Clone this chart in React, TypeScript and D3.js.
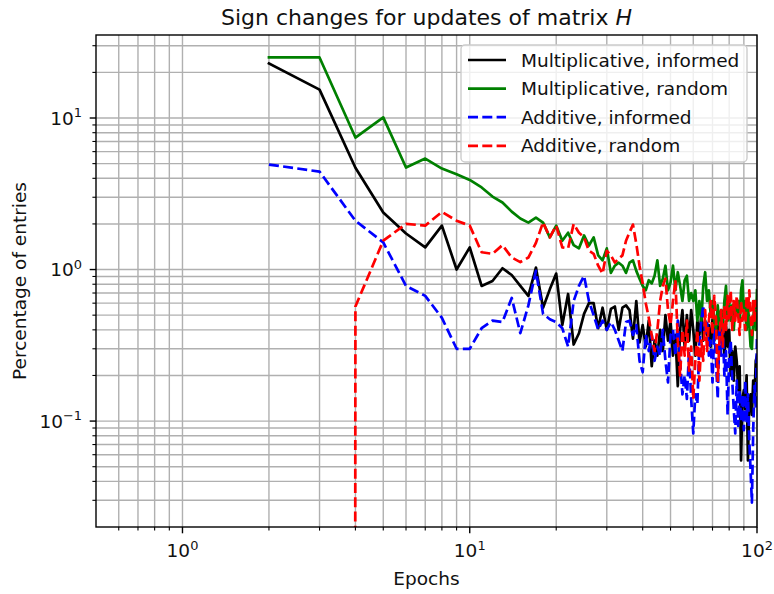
import React from 'react';
import * as d3 from 'd3';

const epochs: number[] = d3.range(2, 101);

const multInformed: number[] = [
  22.9, 15.4, 4.7, 2.38, 1.73, 1.40, 1.95, 1.0, 1.40,
  0.78, 0.84, 1.02, 0.92, 0.78, 0.67, 1.03, 0.56, 0.74, 0.94,
  0.43, 0.69, 0.32, 0.38, 0.51, 0.60, 0.60, 0.41, 0.56, 0.40,
  0.55, 0.57, 0.40, 0.56, 0.58, 0.54, 0.35, 0.62, 0.33, 0.43,
  0.31, 0.46, 0.23, 0.34, 0.27, 0.40, 0.29, 0.50, 0.34, 0.46,
  0.27, 0.37, 0.17, 0.40, 0.54, 0.31, 0.50, 0.34, 0.54, 0.40,
  0.27, 0.46, 0.37, 0.50, 0.34, 0.46, 0.37, 0.43, 0.31, 0.47,
  0.34, 0.43, 0.37, 0.46, 0.34, 0.40, 0.27, 0.43, 0.31, 0.40,
  0.20, 0.29, 0.185, 0.31, 0.25, 0.16, 0.23, 0.055, 0.14, 0.16,
  0.12, 0.20, 0.055, 0.14, 0.15, 0.11, 0.185, 0.14, 0.25, 0.27,
];

const multRandom: number[] = [
  25.1, 25.1, 7.43, 10.1, 4.71, 5.4, 4.64, 4.25, 3.9,
  3.48, 3.03, 2.77, 2.41, 2.17, 2.04, 2.2, 2.04, 1.63, 1.95,
  1.55, 1.75, 1.45, 1.38, 1.68, 1.44, 1.63, 1.24, 1.15, 1.38,
  0.95, 1.06, 1.11, 1.06, 0.95, 1.11, 1.15, 0.98, 0.87, 0.78,
  0.73, 0.85, 0.81, 0.91, 1.15, 0.78, 0.87, 1.06, 0.73, 0.82,
  1.06, 0.73, 0.96, 0.78, 0.62, 0.85, 0.91, 0.62, 0.70, 0.62,
  0.73, 0.46, 0.62, 0.46, 0.78, 0.96, 0.62, 0.73, 0.50, 0.62,
  0.46, 0.40, 0.58, 0.43, 0.54, 0.40, 0.62, 0.78, 0.46, 0.62,
  0.46, 0.58, 0.40, 0.58, 0.50, 0.62, 0.46, 0.73, 0.85, 0.50,
  0.62, 0.40, 0.58, 0.43, 0.31, 0.30, 0.46, 0.62, 0.40, 0.73,
];

const addInformed: number[] = [
  4.93, 4.43, 2.1, 1.51, 0.78, 0.67, 0.48, 0.30, 0.30,
  0.41, 0.46, 0.45, 0.65, 0.38, 0.58, 0.98, 0.51, 0.47, 0.45,
  0.41, 0.31, 0.62, 0.78, 0.91, 0.62, 0.50, 0.40, 0.46, 0.40,
  0.45, 0.40, 0.34, 0.29, 0.45, 0.46, 0.37, 0.43, 0.25, 0.21,
  0.37, 0.29, 0.37, 0.25, 0.31, 0.27, 0.40, 0.25, 0.18, 0.37,
  0.40, 0.27, 0.46, 0.25, 0.15, 0.20, 0.14, 0.29, 0.14, 0.083,
  0.15, 0.13, 0.32, 0.46, 0.58, 0.37, 0.46, 0.27, 0.34, 0.18,
  0.40, 0.25, 0.14, 0.40, 0.27, 0.40, 0.20, 0.29, 0.11, 0.27,
  0.34, 0.185, 0.12, 0.083, 0.185, 0.093, 0.16, 0.10, 0.15, 0.087,
  0.185, 0.10, 0.15, 0.074, 0.047, 0.029, 0.087, 0.17, 0.12, 0.37,
];

const addRandom: number[] = [
  0, 0, 0.57, 1.55, 2.0, 1.95, 2.4, 2.1, 1.95,
  1.3, 1.27, 1.45, 1.2, 1.12, 1.2, 1.5, 2.05, 1.63, 1.95,
  1.4, 1.38, 2.0, 1.75, 1.63, 1.33, 1.27, 1.06, 0.94, 1.33,
  1.24, 1.11, 1.18, 1.24, 1.55, 1.76, 1.98, 1.48, 1.06, 0.81,
  0.60, 0.48, 0.37, 0.29, 0.40, 0.62, 0.78, 0.87, 0.54, 0.43,
  0.62, 0.85, 0.34, 0.20, 0.40, 0.27, 0.46, 0.215, 0.31, 0.14,
  0.25, 0.40, 0.185, 0.34, 0.25, 0.54, 0.29, 0.46, 0.62, 0.37,
  0.67, 0.46, 0.185, 0.34, 0.54, 0.31, 0.58, 0.40, 0.67, 0.46,
  0.73, 0.40, 0.62, 0.46, 0.67, 0.50, 0.37, 0.62, 0.46, 0.54,
  0.40, 0.67, 0.54, 0.73, 0.50, 0.37, 0.62, 0.46, 0.62, 0.54,
];

const seriesNames: string[] = [
  'Multiplicative, informed',
  'Multiplicative, random',
  'Additive, informed',
  'Additive, random',
];
const seriesColors: string[] = ['#000000', '#008000', '#0000ff', '#ff0000'];
const seriesDashed: boolean[] = [false, false, true, true];
const seriesValues: number[][] = [multInformed, multRandom, addInformed, addRandom];

const xDomain: [number, number] = [0.5, 100];
const yDomain: [number, number] = [0.02, 35.3];
const xMajorTicks: number[] = [1, 10, 100];
const xMajorExp: string[] = ['0', '1', '2'];
const yMajorTicks: number[] = [0.1, 1, 10];
const yMajorExp: string[] = ['\u22121', '0', '1'];

const titleText = 'Sign changes for updates of matrix ';
const titleMath = 'H';
const xLabel = 'Epochs';
const yLabel = 'Percentage of entries';

const W = 774;
const H = 594;
const L = 96;
const R = 757;
const T = 35;
const B = 527;
const FONT = 'DejaVu Sans, sans-serif';
const FS = 18.5;
const TXT = '#111111';

export default function App() {
  const x = d3.scaleLog().domain(xDomain).range([L, R]);
  const y = d3.scaleLog().domain(yDomain).range([B, T]);

  const isMajor = (v: number, majors: number[]) =>
    majors.some((m) => Math.abs(v / m - 1) < 1e-6);
  const xMinor = x.ticks().filter((v) => !isMajor(v, xMajorTicks) && v > xDomain[0] * 1.0001 && v < xDomain[1]);
  const yMinor = y.ticks().filter((v) => !isMajor(v, yMajorTicks) && v > yDomain[0] * 1.0001 && v < yDomain[1]);
  const xGrid = [...xMinor, ...xMajorTicks];
  const yGrid = [...yMinor, ...yMajorTicks];

  const line = d3
    .line<number>()
    .x((_, i) => x(epochs[i]))
    .y((v) => y(v > 0 ? v : 1e-300));

  const legendX = 461;
  const legendY = 45;
  const legendW = 286;
  const legendH = 117;
  const rowY = [60, 88.6, 117.2, 145.8];

  return (
    <svg
      width={W}
      height={H}
      style={{ position: 'absolute', left: 0, top: 0, display: 'block' }}
      fontFamily={FONT}
    >
      <defs>
        <clipPath id="plotclip">
          <rect x={L} y={T} width={R - L} height={B - T} />
        </clipPath>
      </defs>
      <rect x={0} y={0} width={W} height={H} fill="#ffffff" />
      <rect x={L} y={T} width={R - L} height={B - T} fill="#ffffff" />

      {/* grid */}
      <g stroke="#b0b0b0" strokeWidth={1.4}>
        {xGrid.map((v, i) => (
          <line key={'gx' + i} x1={x(v)} x2={x(v)} y1={T} y2={B} />
        ))}
        {yGrid.map((v, i) => (
          <line key={'gy' + i} x1={L} x2={R} y1={y(v)} y2={y(v)} />
        ))}
      </g>

      {/* series */}
      <g clipPath="url(#plotclip)" fill="none" strokeWidth={2.7} strokeLinejoin="round">
        {seriesValues.map((vals, i) => (
          <path
            key={'s' + i}
            d={line(vals) || ''}
            stroke={seriesColors[i]}
            strokeDasharray={seriesDashed[i] ? '10,4.3' : undefined}
            strokeLinecap={seriesDashed[i] ? 'butt' : 'square'}
          />
        ))}
      </g>

      {/* spines */}
      <rect x={L} y={T} width={R - L} height={B - T} fill="none" stroke="#000" strokeWidth={1.4} />

      {/* ticks */}
      <g stroke="#000">
        {xMajorTicks.map((v, i) => (
          <line key={'xt' + i} x1={x(v)} x2={x(v)} y1={B} y2={B + 6.3} strokeWidth={1.4} />
        ))}
        {xMinor.map((v, i) => (
          <line key={'xm' + i} x1={x(v)} x2={x(v)} y1={B} y2={B + 3.6} strokeWidth={1.1} />
        ))}
        {yMajorTicks.map((v, i) => (
          <line key={'yt' + i} x1={L - 6.3} x2={L} y1={y(v)} y2={y(v)} strokeWidth={1.4} />
        ))}
        {yMinor.map((v, i) => (
          <line key={'ym' + i} x1={L - 3.6} x2={L} y1={y(v)} y2={y(v)} strokeWidth={1.1} />
        ))}
      </g>

      {/* tick labels */}
      <g fill={TXT} fontSize={FS}>
        {xMajorTicks.map((v, i) => (
          <text key={'xl' + i} x={x(v)} y={557} textAnchor="middle">
            <tspan>10</tspan>
            <tspan fontSize={FS * 0.7} dy={-7.5}>{xMajorExp[i]}</tspan>
          </text>
        ))}
        {yMajorTicks.map((v, i) => (
          <text key={'yl' + i} x={82} y={y(v) + 6.5} textAnchor="end">
            <tspan>10</tspan>
            <tspan fontSize={FS * 0.7} dy={-7.5}>{yMajorExp[i]}</tspan>
          </text>
        ))}
      </g>

      {/* axis labels */}
      <text x={(L + R) / 2} y={585} textAnchor="middle" fontSize={FS} fill={TXT}>
        {xLabel}
      </text>
      <text
        transform={`translate(26,${(T + B) / 2}) rotate(-90)`}
        textAnchor="middle"
        fontSize={FS}
        fill={TXT}
      >
        {yLabel}
      </text>

      {/* title */}
      <text x={(L + R) / 2} y={25} textAnchor="middle" fontSize={22} fill={TXT}>
        <tspan>{titleText}</tspan>
        <tspan fontStyle="italic">{titleMath}</tspan>
      </text>

      {/* legend */}
      <rect
        x={legendX}
        y={legendY}
        width={legendW}
        height={legendH}
        rx={4}
        fill="#ffffff"
        fillOpacity={0.8}
        stroke="#cccccc"
        strokeWidth={1.4}
      />
      {seriesNames.map((name, i) => (
        <g key={'lg' + i}>
          <line
            x1={468}
            x2={506}
            y1={rowY[i]}
            y2={rowY[i]}
            stroke={seriesColors[i]}
            strokeWidth={2.7}
            strokeDasharray={seriesDashed[i] ? '10,4.3' : undefined}
          />
          <text x={521} y={rowY[i] + 6.5} fontSize={FS} fill={TXT}>
            {name}
          </text>
        </g>
      ))}
    </svg>
  );
}
